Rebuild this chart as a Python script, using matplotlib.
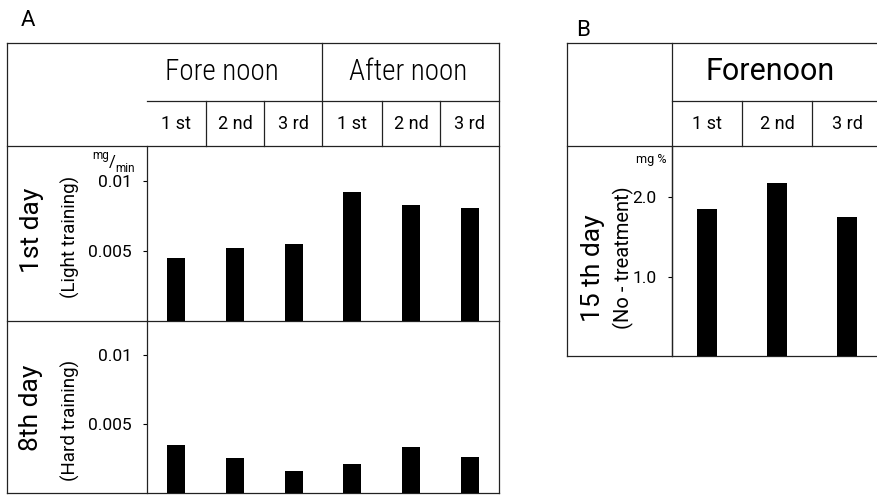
import matplotlib
matplotlib.use("Agg")
import matplotlib.pyplot as plt
from matplotlib import font_manager

# data
sessions = ["1 st", "2 nd", "3 rd"]
periods_a = ["Fore noon", "After noon"]
day1_light = [0.00453, 0.00523, 0.00552, 0.00919, 0.00827, 0.00808]
day8_hard = [0.00348, 0.00251, 0.00157, 0.00208, 0.00336, 0.00263]
day15_none = [1.85, 2.175, 1.75]
yticks_a = [0.005, 0.01]
ytick_labels_a = ["0.005", "0.01"]
yticks_b = [1.0, 2.0]
ytick_labels_b = ["1.0", "2.0"]

# plain lettering close to the original stencil type
have = {f.name for f in font_manager.fontManager.ttflist}
font = next(n for n in ["Roboto", "Lato", "Open Sans", "DejaVu Sans"] if n in have)
narrow = next(n for n in ["Roboto Condensed", "Archivo Narrow", font] if n in have)
plt.rcParams['font.family'] = [font, 'DejaVu Sans']

W, H = 877, 495
fig = plt.figure(figsize=(W / 100, H / 100), dpi=100)


def px_axes(x0, y0, x1, y1):
    # pixel box (top-left origin) -> figure axes
    return fig.add_axes([x0 / W, 1 - y1 / H, (x1 - x0) / W, (y1 - y0) / H])


# overlay for the table grid and labels, in pixel units
ov = fig.add_axes([0, 0, 1, 1])
ov.set_xlim(0, W)
ov.set_ylim(H, 0)
ov.axis("off")

lc = dict(color="#222222", lw=0.9)
head = dict(ha="center", va="center", family=narrow, fontweight="light")


def hline(y, x0, x1):
    ov.plot([x0, x1], [y, y], **lc)


def vline(x, y0, y1):
    ov.plot([x, x], [y0, y1], **lc)


# ---- panel A grid
ax0, ax1 = 147, 499
colw = (ax1 - ax0) / 6
hline(43, 7, ax1)
hline(101, ax0, ax1)
hline(146, 7, ax1)
hline(321, 7, ax1)
hline(493, 7, ax1)
vline(7, 43, 493)
vline(ax1, 43, 493)
vline(322, 43, 146)
for i in [1, 2, 4, 5]:
    vline(ax0 + i * colw, 101, 146)

ov.text(28, 20, "A", fontsize=16, ha="center", va="center")
ov.text(222, 72, periods_a[0], fontsize=21, **head)
ov.text(408, 72, periods_a[1], fontsize=21, **head)
for i in range(6):
    ov.text(ax0 + (i + 0.5) * colw, 124, sessions[i % 3], fontsize=13,
            ha="center", va="center")

ov.text(32, 230, "1st day", fontsize=19, rotation=90, ha="center", va="center")
ov.text(70, 237, "(Light training)", fontsize=13.5, rotation=90, ha="center", va="center")
ov.text(31, 408, "8th day", fontsize=19, rotation=90, ha="center", va="center")
ov.text(70, 420, "(Hard training)", fontsize=13.5, rotation=90, ha="center", va="center")
# mg/min unit written as a slanted fraction
ov.text(109, 156, "mg", fontsize=8.5, ha="right", va="center")
ov.text(112, 162, "/", fontsize=12, ha="center", va="center")
ov.text(115, 168, "min", fontsize=8.5, ha="left", va="center")

# ---- panel B grid
bx0, bx1 = 672, 882
colb = (bx1 - bx0) / 3
hline(43, 567, W)
hline(101, bx0, W)
hline(146, 567, W)
hline(356, 567, W)
vline(567, 43, 356)
vline(bx0, 43, 356)
for i in [1, 2]:
    vline(bx0 + i * colb, 101, 146)

ov.text(583, 30, "B", fontsize=16, ha="center", va="center")
ov.text(770, 72, "Forenoon", fontsize=22, ha="center", va="center")
for i in range(3):
    ov.text(bx0 + (i + 0.5) * colb, 124, sessions[i], fontsize=13,
            ha="center", va="center")
ov.text(593, 268, "15 th day", fontsize=19, rotation=90, ha="center", va="center")
ov.text(623, 258, "(No - treatment)", fontsize=14.5, rotation=90, ha="center", va="center")
ov.text(651, 160, "mg %", fontsize=9, ha="center", va="center")


def bar_panel(ax, values, width, ylim, ticks, labels):
    xs = [i + 0.5 for i in range(len(values))]
    ax.bar(xs, values, width=width, color="black")
    ax.set_xlim(0, len(values))
    ax.set_ylim(0, ylim)
    ax.set_xticks([])
    ax.set_yticks(ticks)
    ax.set_yticklabels(labels, fontsize=12.5)
    ax.tick_params(axis="y", direction="out", length=3, width=0.8, pad=8)
    for s in ["top", "right", "bottom"]:
        ax.spines[s].set_visible(False)
    ax.spines["left"].set_color("#222222")
    ax.spines["left"].set_linewidth(0.9)
    ax.patch.set_alpha(0)


a1 = px_axes(ax0, 146, ax1, 321)
bar_panel(a1, day1_light, 0.31, 0.0125, yticks_a, ytick_labels_a)
a2 = px_axes(ax0, 321, ax1, 493)
bar_panel(a2, day8_hard, 0.31, 0.0125, yticks_a, ytick_labels_a)
b1 = px_axes(bx0, 146, bx1, 356)
bar_panel(b1, day15_none, 0.29, 2.645, yticks_b, ytick_labels_b)

fig.savefig("out.png", dpi=100)
